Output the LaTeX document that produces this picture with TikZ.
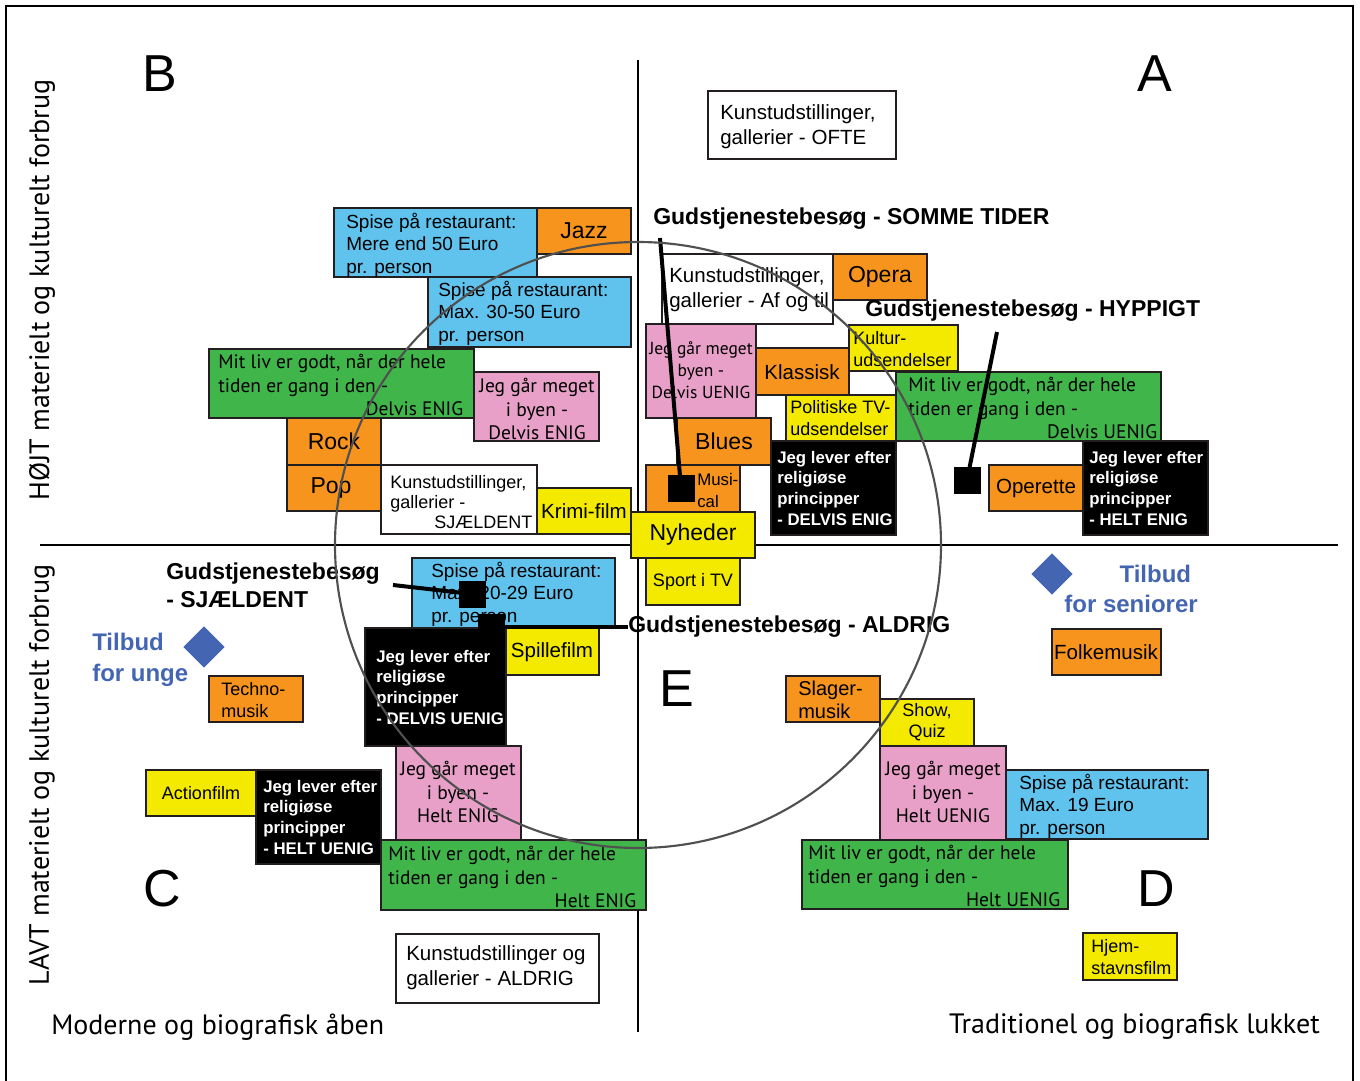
\documentclass[tikz,border=0pt]{standalone}
\usepackage{fontspec}
\setmainfont{Liberation Sans}
\newfontfamily\myriadfont{PT Sans}
\usepackage{tikz}
\usetikzlibrary{shapes.geometric,positioning}
\definecolor{skyfill}{RGB}{96,195,238}
\definecolor{orangefill}{RGB}{247,148,30}
\definecolor{greenfill}{RGB}{64,181,74}
\definecolor{pinkfill}{RGB}{233,160,200}
\definecolor{yellowfill}{RGB}{243,234,0}
\definecolor{edgegray}{RGB}{35,31,32}
\definecolor{offerblue}{RGB}{68,102,178}
\definecolor{ringgray}{RGB}{80,80,80}

\begin{document}
\begin{tikzpicture}[x=0.75pt,y=0.75pt,yscale=-1,xscale=1,
  cell/.style={draw=edgegray,line width=1.1pt},
  sky/.style={cell,fill=skyfill},
  orng/.style={cell,fill=orangefill},
  grn/.style={cell,fill=greenfill},
  pnk/.style={cell,fill=pinkfill},
  ylw/.style={cell,fill=yellowfill},
  wht/.style={cell,fill=white},
  blk/.style={cell,fill=black},
  lbl/.style={inner sep=0pt,font=\fontsize{14.25}{16.9}\selectfont},
  lblbig/.style={inner sep=0pt,font=\fontsize{17.25}{20}\selectfont},
  lblmid/.style={inner sep=0pt,font=\fontsize{15.4}{18}\selectfont},
  lblsmall/.style={inner sep=0pt,font=\fontsize{13.5}{16}\selectfont},
  lblart/.style={inner sep=0pt,font=\fontsize{15.4}{18.75}\selectfont},
  lblmy/.style={inner sep=0pt,font=\myriadfont\fontsize{14.6}{17.6}\selectfont},
  lblrel/.style={inner sep=0pt,text=white,font=\bfseries\fontsize{12.6}{15.5}\selectfont},
  lblhead/.style={inner sep=0pt,font=\bfseries\fontsize{17.25}{21}\selectfont},
  lbloffer/.style={inner sep=0pt,text=offerblue,font=\bfseries\fontsize{18}{23}\selectfont},
  lblaxis/.style={inner sep=0pt,font=\myriadfont\fontsize{21}{23}\selectfont},
  quadrant/.style={inner sep=0pt,font=\fontsize{39}{40}\selectfont},
  marker/.style={fill=black,inner sep=0pt,minimum size=20.25pt},
  offer/.style={diamond,fill=offerblue,inner sep=0pt,minimum size=31pt},
  pointer/.style={line width=3pt}]
\useasboundingbox (0,0) rectangle (1360,1081);

%Shape: Frame
\draw [line width=1.5pt] (6,1081) -- (6,6) -- (1353,6) -- (1353,1081) ;
%Straight Lines: axes
\draw [line width=1.8pt] (638,60) -- (638,1032) ;
\draw [line width=1.8pt] (40,545) -- (1338,545) ;

%%%%% quadrant B
\draw [sky] (334,208) rectangle (537,277) ;
\node [lbl,anchor=west,align=left] (spiseHigh) at (346,245) {Spise på restaurant:\\Mere end 50 Euro\\pr. person};
\draw [orng] (537,208) rectangle (631,254) ;
\node [lblbig] (jazz) at (584,231) {Jazz};
\draw [sky] (428,277) rectangle (631,347) ;
\node [lbl,anchor=west,align=left] (spiseMid) at (438,313) {Spise på restaurant:\\Max. 30-50 Euro\\pr. person};
\draw [grn] (209,349) rectangle (474,418) ;
\node [lblmy,anchor=west,align=left] (livB) at (218,385) {Mit liv er godt, når der hele\\tiden er gang i den -\\\makebox[183.75pt][r]{Delvis ENIG}};
\draw [pnk] (474,372) rectangle (599,441) ;
\node [lblmy,align=center] (byenB) at (537,409) {Jeg går meget\\i byen -\\Delvis ENIG};
\draw [orng] (287,418) rectangle (381,465) ;
\node [lblbig] (rock) at (334,441) {Rock};
\draw [orng] (287,465) rectangle (381,511) ;
\node [lblbig] (pop) at (331,488) {Pop};
\draw [wht] (381,465) rectangle (537,534) ;
\node [inner sep=0pt,font=\fontsize{13.5}{15}\selectfont,anchor=west,align=left] (kunstRare) at (390,502) {Kunstudstillinger,\\gallerier -\\\makebox[106.5pt][r]{SJÆLDENT}};
\draw [ylw] (537,488) rectangle (631,534) ;
\node [lblmid] (krimi) at (584,511) {Krimi-film};
\node [quadrant] (letterB) at (160,74) {B};

%%%%% quadrant A
\draw [wht] (708,91) rectangle (896,159) ;
\node [lblart,anchor=west,align=left] (kunstOften) at (720,127) {Kunstudstillinger,\\gallerier - OFTE};
\node [lblhead,anchor=west] (sommeTxt) at (653,219) {Gudstjenestebesøg - SOMME TIDER};
\draw [wht] (662,254) rectangle (833,324) ;
\node [lblart,anchor=west,align=left] (kunstSome) at (669,290) {Kunstudstillinger,\\gallerier - Af og til};
\draw [orng] (833,254) rectangle (927,300) ;
\node [lblbig] (opera) at (880,277) {Opera};
\draw [pnk] (646,324) rectangle (756,418) ;
\node [inner sep=0pt,font=\myriadfont\fontsize{13.1}{16.5}\selectfont,align=center] (byenA) at (701,370) {Jeg går meget\\byen -\\Delvis UENIG};
\draw [orng] (756,348) rectangle (849,395) ;
\node [lblmid] (klassisk) at (802,372) {Klassisk};
\draw [ylw] (849,325) rectangle (958,371) ;
\node [lblsmall,anchor=west,align=left] (kultur) at (853,349) {Kultur-\\udsendelser};
\node [lblhead,anchor=west] (hyppigTxt) at (865,311) {Gudstjenestebesøg - HYPPIGT};
\draw [ylw] (786,395) rectangle (896,441) ;
\node [lblsmall,anchor=west,align=left] (politisk) at (790,418) {Politiske TV-\\udsendelser};
\draw [grn] (896,372) rectangle (1161,441) ;
\node [lblmy,anchor=west,align=left] (livA) at (908,408) {Mit liv er godt, når der hele\\tiden er gang i den -\\\makebox[186.75pt][r]{Delvis UENIG}};
\draw [orng] (677,418) rectangle (771,465) ;
\node [lblbig] (blues) at (724,441) {Blues};
\draw [blk] (771,441) rectangle (896,535) ;
\node [lblrel,anchor=west,align=left] (religDE) at (777,488) {Jeg lever efter\\religiøse\\principper\\- DELVIS ENIG};
\draw [orng] (646,465) rectangle (740,512) ;
\node [inner sep=0pt,font=\fontsize{12.6}{16.5}\selectfont,anchor=west,align=left] (musical) at (697,490) {Musi-\\cal};
\draw [ylw] (631,512) rectangle (755,558) ;
\node [lblbig] (nyheder) at (693,535) {Nyheder};
\draw [ylw] (646,558) rectangle (740,605) ;
\node [lblsmall] (sport) at (693,582) {Sport i TV};
\draw [orng] (989,465) rectangle (1083,511) ;
\node [lblmid] (operette) at (1036,488) {Operette};
\draw [blk] (1083,441) rectangle (1208,535) ;
\node [lblrel,anchor=west,align=left] (religHE) at (1089,488) {Jeg lever efter\\religiøse\\principper\\- HELT ENIG};
\node [quadrant] (letterA) at (1155,74) {A};

%Straight Lines: church attendance markers
\node [marker] (sommeMark) at (681,488) {};
\coordinate (sommeTop) at (660,238);
\draw [pointer] (sommeTop) -- (sommeMark.center) ;
\node [marker] (hyppigMark) at (967,480) {};
\coordinate (hyppigTop) at (997,332);
\draw [pointer] (hyppigTop) -- (hyppigMark.center) ;

%%%%% quadrant C
\node [lblhead,anchor=west,align=left] (saeldenTxt) at (166,585) {Gudstjenestebesøg\\- SJÆLDENT};
\draw [sky] (412,558) rectangle (615,628) ;
\node [lbl,anchor=west,align=left] (spiseLow) at (431,594) {Spise på restaurant:\\Max. 20-29 Euro\\pr. person};
\draw [blk] (365,628) rectangle (506,746) ;
\node [lblrel,anchor=west,align=left] (religDU) at (376,687) {Jeg lever efter\\religiøse\\principper\\- DELVIS UENIG};
\draw [ylw] (506,628) rectangle (599,675) ;
\node [lblmid] (spillefilm) at (552,652) {Spillefilm};
\node [lbloffer,anchor=west,align=left] (offerYoung) at (92,660) {Tilbud\\for unge};
\node [offer] (diamYoung) at (204,647) {};
\draw [orng] (209,676) rectangle (303,722) ;
\node [lblsmall,anchor=west,align=left] (techno) at (221,700) {Techno-\\musik};
\draw [pnk] (396,746) rectangle (521,840) ;
\node [lblmy,align=center] (byenC) at (458,792) {Jeg går meget\\i byen -\\Helt ENIG};
\draw [ylw] (146,770) rectangle (256,816) ;
\node [lblsmall] (action) at (201,793) {Actionfilm};
\draw [blk] (256,770) rectangle (381,864) ;
\node [lblrel,anchor=west,align=left] (religHU) at (263,817) {Jeg lever efter\\religiøse\\principper\\- HELT UENIG};
\draw [grn] (381,840) rectangle (646,910) ;
\node [lblmy,anchor=west,align=left] (livC) at (388,877) {Mit liv er godt, når der hele\\tiden er gang i den -\\\makebox[186pt][r]{Helt ENIG}};
\draw [wht] (396,934) rectangle (599,1003) ;
\node [lblart,anchor=west,align=left] (kunstNever) at (406,968) {Kunstudstillinger og\\gallerier - ALDRIG};
\node [quadrant] (letterC) at (162,889) {C};
\node [quadrant] (letterE) at (677,689) {E};

%Straight Lines: church attendance markers
\node [marker] (saeldenMark) at (472,594) {};
\coordinate (saeldenEnd) at (393,585);
\draw [pointer] (saeldenEnd) -- (saeldenMark.center) ;
\node [marker] (aldrigMark) at (491,627) {};
\node [lblhead,anchor=west] (aldrigTxt) at (628,627) {Gudstjenestebesøg - ALDRIG};
\draw [pointer] (aldrigTxt.west) -- (aldrigMark.center) ;

%%%%% quadrant D
\node [offer] (diamSenior) at (1052,574) {};
\node [lbloffer,anchor=east,align=right] (offerSenior) at (1198,589) {Tilbud\hspace*{5pt}\\for seniorer};
\draw [orng] (1052,629) rectangle (1161,675) ;
\node [lblmid] (folke) at (1106,652) {Folkemusik};
\draw [orng] (786,676) rectangle (880,722) ;
\node [inner sep=0pt,font=\fontsize{15}{17}\selectfont,anchor=west,align=left] (slager) at (798,700) {Slager-\\musik};
\draw [ylw] (880,699) rectangle (974,746) ;
\node [lblsmall,align=center] (show) at (927,722) {Show,\\Quiz};
\draw [pnk] (880,746) rectangle (1006,840) ;
\node [lblmy,align=center] (byenD) at (943,792) {Jeg går meget\\i byen -\\Helt UENIG};
\draw [sky] (1006,770) rectangle (1208,839) ;
\node [lbl,anchor=west,align=left] (spiseCheap) at (1019,806) {Spise på restaurant:\\Max. 19 Euro\\pr. person};
\draw [grn] (802,840) rectangle (1068,909) ;
\node [lblmy,anchor=west,align=left] (livD) at (808,876) {Mit liv er godt, når der hele\\tiden er gang i den -\\\makebox[189pt][r]{Helt UENIG}};
\draw [ylw] (1083,933) rectangle (1177,980) ;
\node [lblsmall,anchor=west,align=left] (hjem) at (1091,957) {Hjem-\\stavnsfilm};
\node [quadrant] (letterD) at (1156,889) {D};

%Shape: Circle
\draw [ringgray,line width=1.6pt] (638,545) circle (303) ;

% Text Node: axis labels
\node [lblaxis,rotate=90] (highAxis) at (42,290) {HØJT materielt og kulturelt forbrug};
\node [lblaxis,rotate=90] (lowAxis) at (42,775) {LAVT materielt og kulturelt forbrug};
\node [lblaxis,anchor=west] (modernAxis) at (51,1027) {Moderne og biografisk åben};
\node [lblaxis,anchor=east] (tradAxis) at (1320,1027) {Traditionel og biografisk lukket};

\end{tikzpicture}
\end{document}
